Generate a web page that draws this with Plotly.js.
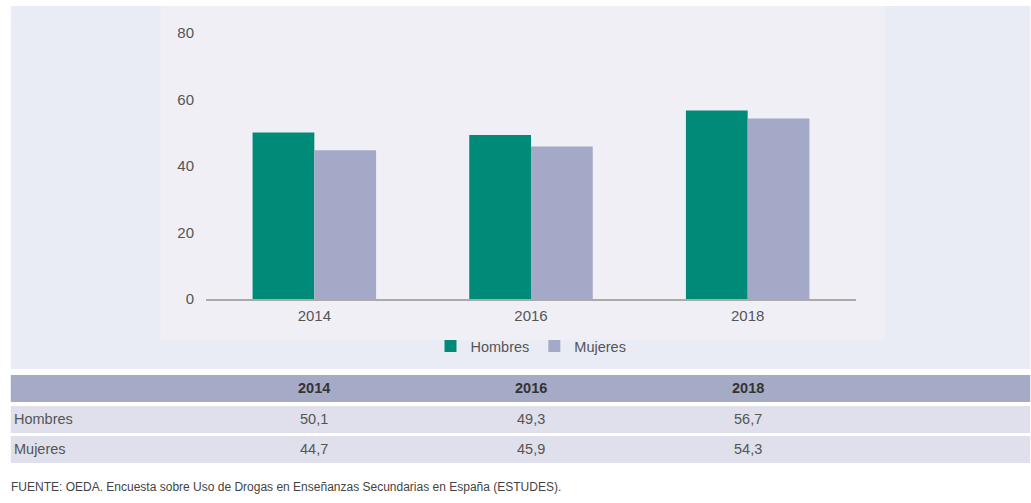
<!DOCTYPE html>
<html>
<head>
<meta charset="utf-8">
<script src="https://cdn.plot.ly/plotly-3.0.1.min.js"></script>
<style>html,body{margin:0;padding:0;background:#fff;}#chart{width:1031px;height:503px;}</style>
</head>
<body>
<div id="chart"></div>
<script>
const years = ['2014', '2016', '2018'];
const hombres = [50.1, 49.3, 56.7];
const mujeres = [44.7, 45.9, 54.3];
const seriesNames = ['Hombres', 'Mujeres'];
const yTicks = [0, 20, 40, 60, 80];
const sourceText = 'FUENTE: OEDA. Encuesta sobre Uso de Drogas en Enseñanzas Secundarias en España (ESTUDES).';

const W = 1031, H = 503;
const L = 205.5, R = 856.5, T = 33, B = 299;
const px = x => (x - L) / (R - L);
const py = y => (B - y) / (B - T);
const FONT = 'Liberation Sans, Arial, Helvetica, sans-serif';
const fmt = v => v.toFixed(1).replace('.', ',');

const traces = [
  {type: 'bar', name: seriesNames[0], x: years, y: hombres, marker: {color: '#008a78'}, hoverinfo: 'skip'},
  {type: 'bar', name: seriesNames[1], x: years, y: mujeres, marker: {color: '#a3a9c6'}, hoverinfo: 'skip'}
];

const shapes = [
  {type: 'rect', xref: 'paper', yref: 'paper', x0: px(10), x1: px(1031), y0: py(6), y1: py(369), fillcolor: '#eaecf5', line: {width: 0}, layer: 'below'},
  {type: 'rect', xref: 'paper', yref: 'paper', x0: px(160), x1: px(885), y0: py(6), y1: py(340), fillcolor: '#efeff5', line: {width: 0}, layer: 'below'},
  {type: 'rect', xref: 'paper', yref: 'paper', x0: px(10), x1: px(1031), y0: py(375), y1: py(402), fillcolor: '#a5abc7', line: {width: 0}, layer: 'below'},
  {type: 'rect', xref: 'paper', yref: 'paper', x0: px(10), x1: px(1031), y0: py(406), y1: py(433), fillcolor: '#dfe0eb', line: {width: 0}, layer: 'below'},
  {type: 'rect', xref: 'paper', yref: 'paper', x0: px(10), x1: px(1031), y0: py(436), y1: py(463), fillcolor: '#dfe0eb', line: {width: 0}, layer: 'below'}
];

const annotations = [];
const rowY = [py(388), py(419), py(449)];
years.forEach((yr, i) => {
  annotations.push({xref: 'x', yref: 'paper', x: i, y: rowY[0], text: '<b>' + yr + '</b>', showarrow: false, font: {family: FONT, size: 14.5, color: '#333'}, xanchor: 'center', yanchor: 'middle'});
  annotations.push({xref: 'x', yref: 'paper', x: i, y: rowY[1], text: fmt(hombres[i]), showarrow: false, font: {family: FONT, size: 14.5, color: '#555'}, xanchor: 'center', yanchor: 'middle'});
  annotations.push({xref: 'x', yref: 'paper', x: i, y: rowY[2], text: fmt(mujeres[i]), showarrow: false, font: {family: FONT, size: 14.5, color: '#555'}, xanchor: 'center', yanchor: 'middle'});
});
seriesNames.forEach((n, k) => {
  annotations.push({xref: 'paper', yref: 'paper', x: px(11), y: rowY[k + 1], text: n, showarrow: false, font: {family: FONT, size: 14.5, color: '#555'}, xanchor: 'left', yanchor: 'middle'});
});
annotations.push({xref: 'paper', yref: 'paper', x: px(8), y: py(487), text: sourceText, showarrow: false, font: {family: FONT, size: 12, color: '#444'}, xanchor: 'left', yanchor: 'middle'});

const layout = {
  width: W, height: H,
  margin: {l: L, r: W - R, t: T, b: H - B, pad: 0},
  paper_bgcolor: '#ffffff',
  plot_bgcolor: 'rgba(0,0,0,0)',
  barmode: 'group',
  bargap: 0.43,
  bargroupgap: 0,
  font: {family: FONT, size: 14.5, color: '#555'},
  xaxis: {type: 'category', range: [-0.5, 2.5], showgrid: false, showline: true, linecolor: '#aaaaaa', linewidth: 2, ticks: '', tickfont: {family: FONT, size: 15, color: '#555'}, ticklabelstandoff: 2, fixedrange: true},
  yaxis: {range: [0, 80], tickvals: yTicks, showgrid: false, zeroline: false, showline: false, ticks: '', tickfont: {family: FONT, size: 15, color: '#555'}, ticklabelstandoff: 11, fixedrange: true},
  showlegend: true,
  legend: {orientation: 'h', x: px(531), xanchor: 'center', y: py(346), yanchor: 'middle', font: {family: FONT, size: 14.5, color: '#555'}, bgcolor: 'rgba(0,0,0,0)', itemclick: false, itemdoubleclick: false},
  shapes: shapes,
  annotations: annotations
};

Plotly.newPlot('chart', traces, layout, {displayModeBar: false, staticPlot: true});
</script>
</body>
</html>
